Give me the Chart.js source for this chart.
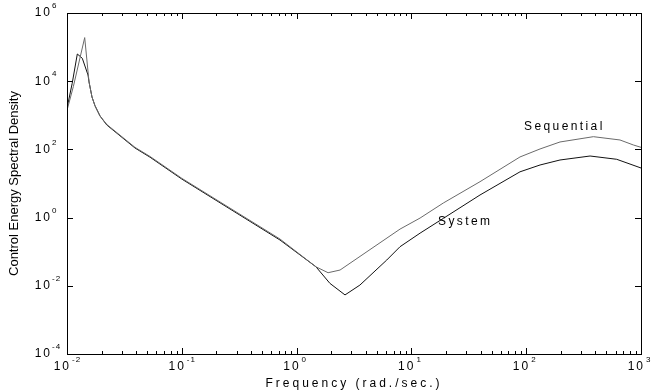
<!DOCTYPE html>
<html>
<head>
<meta charset="utf-8">
<script src="https://cdn.jsdelivr.net/npm/chart.js@4"></script>
<style>
  body { margin: 0; background: #fff; }
</style>
</head>
<body>
<canvas id="psdChart" width="652" height="392"></canvas>
<script>
// Sequential curve (grey)
const seqFreq = [0.01, 0.01135, 0.01426, 0.01556, 0.01651, 0.01754, 0.01939, 0.0222, 0.0391, 0.0529, 0.1, 0.717,
  1.476, 1.88, 2.39, 7.96, 11.9, 18.97, 39.6, 88.3, 132, 197, 385, 656, 857, 1000];
const seqVal = [1400, 6900, 190000, 9500, 3440, 1900, 955, 540, 115, 62, 14.2, 0.235,
  0.036, 0.0242, 0.029, 0.46, 0.97, 2.68, 11.3, 60, 103, 165, 236, 189, 135, 115];

// System curve (black)
const sysFreq = [0.01, 0.0111, 0.0123, 0.01359, 0.01524, 0.01556, 0.01651, 0.01754, 0.01939, 0.0222, 0.0391, 0.0529, 0.1, 0.717,
  1.476, 1.95, 2.64, 3.56, 6.1, 7.96, 11.9, 18.97, 39.6, 88.3, 132, 197, 360, 614, 1000];
const sysVal = [1600, 8670, 62800, 47000, 15200, 9500, 3440, 1900, 955, 520, 110, 59, 13.5, 0.22,
  0.036, 0.0118, 0.0054, 0.0105, 0.057, 0.14, 0.35, 0.95, 4.6, 22, 34.9, 48.9, 64, 51.3, 28.5];

// tick exponents
const xExps = [-2, -1, 0, 1, 2, 3];
const yExps = [-4, -2, 0, 2, 4, 6];

function toPoints(fs, vs) {
  return fs.map((f, i) => ({ x: f, y: vs[i] }));
}

// draws the box, inward ticks, 10^n labels, titles and curve names
const axesPlugin = {
  id: "axesPlugin",
  afterDraw(chart) {
    const ctx = chart.ctx;
    const a = chart.chartArea;
    const xs = chart.scales.x;
    const ys = chart.scales.y;
    ctx.save();
    ctx.strokeStyle = "#000";
    ctx.lineWidth = 1;
    ctx.strokeRect(a.left + 0.5, a.top + 0.5, a.right - a.left, a.bottom - a.top);

    ctx.beginPath();
    for (let k = -2; k < 3; k++) {
      for (let m = 1; m <= 9; m++) {
        const px = Math.round(xs.getPixelForValue(m * Math.pow(10, k))) + 0.5;
        if (px <= a.left + 1) continue;
        const len = m === 1 ? 6 : 3;
        ctx.moveTo(px, a.bottom); ctx.lineTo(px, a.bottom - len);
        ctx.moveTo(px, a.top); ctx.lineTo(px, a.top + len);
      }
    }
    yExps.forEach(e => {
      const py = Math.round(ys.getPixelForValue(Math.pow(10, e))) + 0.5;
      if (py <= a.top + 1 || py >= a.bottom - 1) return;
      ctx.moveTo(a.left, py); ctx.lineTo(a.left + 6, py);
      ctx.moveTo(a.right, py); ctx.lineTo(a.right - 6, py);
    });
    ctx.stroke();

    ctx.fillStyle = "#000";
    ctx.textBaseline = "middle";
    xExps.forEach(e => {
      const px = xs.getPixelForValue(Math.pow(10, e));
      ctx.font = "12px 'Liberation Sans', Arial, sans-serif";
      ctx.letterSpacing = "2px";
      ctx.textAlign = "right";
      ctx.fillText("10", px + 4, 367);
      ctx.font = "8px 'Liberation Sans', Arial, sans-serif";
      ctx.letterSpacing = "1px";
      ctx.textAlign = "left";
      ctx.fillText(String(e), px + 5, 360);
    });
    yExps.forEach(e => {
      const py = ys.getPixelForValue(Math.pow(10, e));
      ctx.font = "12px 'Liberation Sans', Arial, sans-serif";
      ctx.letterSpacing = "2px";
      ctx.textAlign = "right";
      ctx.fillText("10", 52, py);
      ctx.font = "8px 'Liberation Sans', Arial, sans-serif";
      ctx.letterSpacing = "1px";
      ctx.textAlign = "left";
      ctx.fillText(String(e), 52, py - 7);
    });

    // axis titles
    ctx.font = "12px 'Liberation Sans', Arial, sans-serif";
    ctx.letterSpacing = "3px";
    ctx.textAlign = "center";
    ctx.fillText("Frequency (rad./sec.)", (a.left + a.right) / 2, 384);

    ctx.save();
    ctx.translate(14, (a.top + a.bottom) / 2);
    ctx.rotate(-Math.PI / 2);
    ctx.font = "13px 'Liberation Sans', Arial, sans-serif";
    ctx.letterSpacing = "0px";
    ctx.fillText("Control Energy Spectral Density", 0, 0);
    ctx.restore();

    // curve names
    ctx.font = "12px 'Liberation Sans', Arial, sans-serif";
    ctx.letterSpacing = "2.4px";
    ctx.textAlign = "left";
    ctx.fillText("Sequential", 524, 127);
    ctx.fillText("System", 438, 222);
    ctx.restore();
  }
};

const psdCtx = document.getElementById("psdChart").getContext("2d");
const psdChart = new Chart(psdCtx, {
  type: "scatter",
  data: {
    datasets: [
      {
        label: "Sequential",
        data: toPoints(seqFreq, seqVal),
        showLine: true,
        borderColor: "#6a6a6a",
        borderWidth: 1,
        pointRadius: 0,
        tension: 0,
      },
      {
        label: "System",
        data: toPoints(sysFreq, sysVal),
        showLine: true,
        borderColor: "#111",
        borderWidth: 1,
        pointRadius: 0,
        tension: 0,
      },
    ],
  },
  options: {
    responsive: false,
    animation: false,
    layout: { padding: { left: 67, right: 11, top: 13, bottom: 38 } },
    plugins: { legend: { display: false }, tooltip: { enabled: false } },
    scales: {
      x: { type: "logarithmic", min: 0.01, max: 1000, display: false },
      y: { type: "logarithmic", min: 1e-4, max: 1e6, display: false },
    },
  },
  plugins: [axesPlugin],
});
</script>
</body>
</html>
